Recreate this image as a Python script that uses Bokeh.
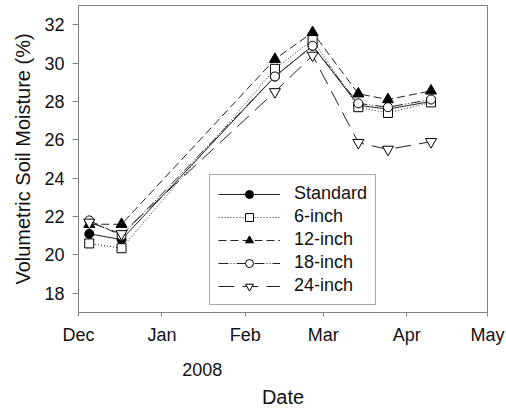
import pandas as pd
from bokeh.plotting import figure
from bokeh.models import (Range1d, FixedTicker, DatetimeTickFormatter, LinearAxis,
                          CustomJSTickFormatter, Legend, LegendItem)
from bokeh.embed import file_html
from bokeh.resources import INLINE

# ---- data ----
dates = ["2007-12-05", "2007-12-17", "2008-02-12", "2008-02-26",
         "2008-03-14", "2008-03-25", "2008-04-10"]
standard = [21.1, 20.8, 29.3, 30.9, 27.8, 27.6, 28.0]
inch6 = [20.6, 20.35, 29.7, 31.2, 27.7, 27.4, 27.95]
inch12 = [21.6, 21.6, 30.2, 31.6, 28.4, 28.1, 28.55]
inch18 = [21.8, 21.0, 29.3, 30.9, 27.9, 27.7, 28.1]
inch24 = [21.7, 21.1, 28.5, 30.4, 25.85, 25.5, 25.9]
series_names = ["Standard", "6-inch", "12-inch", "18-inch", "24-inch"]
month_ticks = ["2007-12-01", "2008-01-01", "2008-02-01", "2008-03-01",
               "2008-04-01", "2008-05-01"]
y_ticks = [18, 20, 22, 24, 26, 28, 30, 32]
year_label = "2008"
year_label_date = "2008-01-16"


def to_ms(s):
    return [int(v) // 10**6 for v in pd.to_datetime(s).astype("int64")]


x = pd.to_datetime(dates)
tick_ms = to_ms(month_ticks)
year_ms = to_ms([year_label_date])

FONT = "Liberation Sans"
AX = "#808080"

p = figure(width=505, height=410, output_backend="svg", toolbar_location=None,
           x_axis_type="datetime",
           x_range=Range1d(tick_ms[0], tick_ms[-1]),
           y_range=Range1d(17.0, 33.0),
           min_border_left=78, min_border_right=18, min_border_top=5,
           min_border_bottom=10)
p.grid.visible = False
p.outline_line_color = AX
p.outline_line_width = 1
p.background_fill_color = "white"
p.border_fill_color = "white"

# x axis (months)
xa = p.xaxis[0]
xa.ticker = FixedTicker(ticks=tick_ms)
xa.formatter = DatetimeTickFormatter(days="%b", months="%b", years="%b",
                                     hours="%b", hourmin="%b", minutes="%b",
                                     minsec="%b", seconds="%b")
xa.major_tick_out = 4
xa.major_tick_in = 0
xa.minor_tick_line_color = None
xa.axis_line_color = AX
xa.major_tick_line_color = AX
xa.major_label_standoff = 8
xa.major_label_text_font = FONT
xa.major_label_text_font_size = "18px"
xa.major_label_text_color = "#111"

# second x axis for the year and title
xa2 = LinearAxis(ticker=FixedTicker(ticks=year_ms),
                 formatter=CustomJSTickFormatter(code="return '%s';" % year_label))
xa2.axis_line_color = None
xa2.major_tick_line_color = None
xa2.minor_tick_line_color = None
xa2.major_label_standoff = 9
xa2.major_label_text_font = FONT
xa2.major_label_text_font_size = "18px"
xa2.major_label_text_color = "#111"
xa2.axis_label = "Date"
xa2.axis_label_standoff = 7
xa2.axis_label_text_font = FONT
xa2.axis_label_text_font_size = "20px"
xa2.axis_label_text_font_style = "normal"
xa2.axis_label_text_color = "#111"
p.add_layout(xa2, "below")

# y axis
ya = p.yaxis[0]
ya.ticker = FixedTicker(ticks=y_ticks)
ya.major_tick_out = 6
ya.major_tick_in = 0
ya.minor_tick_line_color = None
ya.axis_line_color = AX
ya.major_tick_line_color = AX
ya.major_label_standoff = 8
ya.major_label_text_font = FONT
ya.major_label_text_font_size = "18px"
ya.major_label_text_color = "#111"
ya.axis_label = "Volumetric Soil Moisture (%)"
ya.axis_label_standoff = 7
ya.axis_label_text_font = FONT
ya.axis_label_text_font_size = "20px"
ya.axis_label_text_font_style = "normal"
ya.axis_label_text_color = "#111"

LC = "#222222"
styles = [
    (standard, "solid", "circle", "black", 9),
    (inch6, "1 2", "square", "white", 9),
    (inch12, "8 4", "triangle", "black", 11),
    (inch18, "10 2 1 2 1 2", "circle", "white", 9),
    (inch24, "16 8", "inverted_triangle", "white", 11),
]

items = []
for name, (vals, dash, marker, fill, size) in zip(series_names, styles):
    lr = p.line(x, vals, line_color=LC, line_width=1, line_dash=dash)
    sr = p.scatter(x, vals, marker=marker, size=size, fill_color=fill,
                   line_color="black", line_width=1)
    items.append(LegendItem(label=name, renderers=[lr, sr]))

legend = Legend(items=items, location=(131, 7))
legend.border_line_color = "#555555"
legend.border_line_width = 1
legend.background_fill_color = "white"
legend.background_fill_alpha = 1
legend.padding = 8
legend.spacing = 2
legend.margin = 0
legend.glyph_width = 62
legend.glyph_height = 20
legend.label_standoff = 14
legend.label_text_font = FONT
legend.label_text_font_size = "18px"
legend.label_text_color = "#111"
p.add_layout(legend)

open("out.html", "w").write(file_html(p, INLINE))
